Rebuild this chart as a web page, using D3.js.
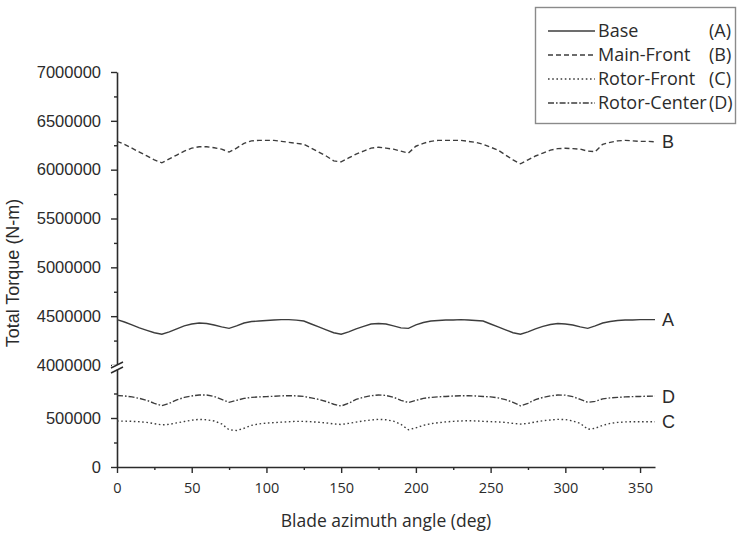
<!DOCTYPE html>
<html>
<head>
<meta charset="utf-8">
<script src="https://cdn.jsdelivr.net/npm/d3@7"></script>
<style>
  html, body { margin: 0; padding: 0; background: #fff; }
  svg { display: block; }
</style>
</head>
<body>
<svg id="chart" width="738" height="534"></svg>
<script>
// Blade azimuth angles (deg), sampled every 5 degrees
const angles = d3.range(0, 361, 5);

// Total torque per configuration (N-m)
const baseA = [
  4465000, 4440000, 4410000, 4380000, 4355000, 4330000, 4315000, 4340000, 4370000, 4400000,
  4420000, 4430000, 4425000, 4410000, 4390000, 4375000, 4400000, 4430000, 4445000, 4450000,
  4455000, 4460000, 4465000, 4465000, 4460000, 4450000, 4420000, 4390000, 4360000, 4330000,
  4315000, 4340000, 4370000, 4395000, 4420000, 4425000, 4420000, 4400000, 4380000, 4375000,
  4410000, 4435000, 4450000, 4455000, 4460000, 4460000, 4465000, 4460000, 4455000, 4450000,
  4420000, 4390000, 4360000, 4330000, 4315000, 4340000, 4370000, 4395000, 4415000, 4425000,
  4420000, 4410000, 4390000, 4375000, 4400000, 4430000, 4445000, 4455000, 4460000, 4460000,
  4465000, 4465000, 4465000
];
const mainFrontB = [
  6290000, 6260000, 6220000, 6180000, 6140000, 6100000, 6070000, 6110000, 6150000, 6190000,
  6220000, 6235000, 6235000, 6225000, 6210000, 6180000, 6220000, 6270000, 6295000, 6300000,
  6300000, 6300000, 6290000, 6280000, 6270000, 6260000, 6220000, 6180000, 6140000, 6090000,
  6080000, 6120000, 6160000, 6190000, 6220000, 6230000, 6220000, 6210000, 6190000, 6170000,
  6240000, 6270000, 6290000, 6300000, 6300000, 6300000, 6300000, 6290000, 6280000, 6260000,
  6230000, 6200000, 6150000, 6100000, 6060000, 6100000, 6140000, 6170000, 6200000, 6215000,
  6220000, 6215000, 6210000, 6190000, 6185000, 6260000, 6280000, 6295000, 6300000, 6295000,
  6290000, 6290000, 6285000
];
const rotorFrontC = [
  469000, 468000, 466000, 462000, 455000, 442000, 430000, 435000, 450000, 464000,
  478000, 486000, 482000, 470000, 440000, 380000, 372000, 395000, 425000, 440000,
  448000, 453000, 458000, 462000, 466000, 466000, 462000, 456000, 450000, 440000,
  434000, 445000, 458000, 470000, 480000, 486000, 482000, 468000, 435000, 380000,
  400000, 425000, 442000, 452000, 460000, 466000, 470000, 472000, 470000, 466000,
  463000, 460000, 455000, 445000, 438000, 445000, 460000, 472000, 480000, 486000,
  484000, 470000, 445000, 385000, 395000, 425000, 445000, 455000, 460000, 462000,
  462000, 462000, 462000
];
const rotorCenterD = [
  730000, 725000, 715000, 700000, 680000, 650000, 625000, 650000, 685000, 710000,
  725000, 735000, 735000, 720000, 690000, 660000, 680000, 700000, 710000, 715000,
  718000, 722000, 726000, 728000, 726000, 720000, 705000, 690000, 668000, 640000,
  622000, 650000, 690000, 712000, 728000, 735000, 730000, 712000, 680000, 658000,
  680000, 700000, 710000, 716000, 720000, 724000, 727000, 727000, 725000, 720000,
  716000, 705000, 688000, 660000, 624000, 650000, 688000, 710000, 726000, 735000,
  733000, 718000, 690000, 660000, 670000, 695000, 705000, 710000, 716000, 718000,
  720000, 722000, 724000
];

const seriesNames = ["Base", "Main-Front", "Rotor-Front", "Rotor-Center"];
const seriesTags = ["A", "B", "C", "D"];

// Axis ticks
const xMajorTicks = [0, 50, 100, 150, 200, 250, 300, 350];
const xMinorTicks = [25, 75, 125, 175, 225, 275, 325];
const yUpperMajor = [4000000, 4500000, 5000000, 5500000, 6000000, 6500000, 7000000];
const yUpperMinor = [4250000, 4750000, 5250000, 5750000, 6250000, 6750000];
const yLowerMajor = [0, 500000];
const yLowerMinor = [250000, 750000];

const svg = d3.select("#chart");
const ink = "#2b2b2b";
const lineInk = "#3d3d3d";

const x = d3.scaleLinear().domain([0, 360]).range([117, 655]);
// Broken y axis: low band and high band
const yLow = d3.scaleLinear().domain([0, 1000000]).range([467, 369]);
const yHigh = d3.scaleLinear().domain([4000000, 7000000]).range([365, 72]);

const tickFontY = "'Liberation Sans', Arial, sans-serif";
const tickFontX = "'Open Sans', 'Noto Sans', sans-serif";

function styleAxis(g, font, size) {
  g.selectAll("path.domain").attr("stroke", ink).attr("stroke-width", 1.6);
  g.selectAll(".tick line").attr("stroke", ink).attr("stroke-width", 1.4);
  g.selectAll(".tick text").attr("fill", ink).style("font-family", font).style("font-size", size + "px");
}

// X axis
const gx = svg.append("g").attr("transform", "translate(0,467)")
  .call(d3.axisBottom(x).tickValues(xMajorTicks).tickSize(6).tickPadding(10).tickSizeOuter(0));
styleAxis(gx, tickFontX, 14.5);
const gxm = svg.append("g").attr("transform", "translate(0,467)")
  .call(d3.axisBottom(x).tickValues(xMinorTicks).tickSize(3).tickFormat("").tickSizeOuter(0));
styleAxis(gxm, tickFontX, 14.5);
gxm.select("path.domain").remove();

// Y axis, upper band
const gyH = svg.append("g").attr("transform", "translate(117,0)")
  .call(d3.axisLeft(yHigh).tickValues(yUpperMajor).tickSize(6).tickPadding(10).tickSizeOuter(0).tickFormat(d3.format("d")));
styleAxis(gyH, tickFontY, 16.5);
const gyHm = svg.append("g").attr("transform", "translate(117,0)")
  .call(d3.axisLeft(yHigh).tickValues(yUpperMinor).tickSize(3).tickFormat("").tickSizeOuter(0));
styleAxis(gyHm, tickFontY, 16.5);
gyHm.select("path.domain").remove();

// Y axis, lower band
const gyL = svg.append("g").attr("transform", "translate(117,0)")
  .call(d3.axisLeft(yLow).tickValues(yLowerMajor).tickSize(6).tickPadding(10).tickSizeOuter(0).tickFormat(d3.format("d")));
styleAxis(gyL, tickFontY, 16.5);
const gyLm = svg.append("g").attr("transform", "translate(117,0)")
  .call(d3.axisLeft(yLow).tickValues(yLowerMinor).tickSize(3).tickFormat("").tickSizeOuter(0));
styleAxis(gyLm, tickFontY, 16.5);
gyLm.select("path.domain").remove();

// Axis break marks
const brk = svg.append("g").attr("stroke", ink).attr("stroke-width", 1.4);
brk.append("rect").attr("x", 112).attr("y", 365).attr("width", 10).attr("height", 4).attr("fill", "#fff").attr("stroke", "none");
brk.append("line").attr("x1", 111).attr("y1", 368).attr("x2", 123).attr("y2", 362);
brk.append("line").attr("x1", 111).attr("y1", 373).attr("x2", 123).attr("y2", 367);

// Axis titles
svg.append("text")
  .attr("transform", "translate(19,273) rotate(-90)")
  .attr("text-anchor", "middle")
  .attr("fill", ink)
  .style("font-family", tickFontY)
  .style("font-size", "18px")
  .text("Total Torque (N-m)");
svg.append("text")
  .attr("x", 386).attr("y", 527)
  .attr("text-anchor", "middle")
  .attr("fill", ink)
  .style("font-family", tickFontX)
  .style("font-size", "17.5px")
  .text("Blade azimuth angle (deg)");

// Series
const dashes = ["none", "5,3", "1.6,2.6", "6,2,1.6,2"];
const series = [
  { values: baseA, scale: yHigh },
  { values: mainFrontB, scale: yHigh },
  { values: rotorFrontC, scale: yLow },
  { values: rotorCenterD, scale: yLow }
];

series.forEach((s, i) => {
  const pts = angles.map((a, k) => [a, s.values[k]]);
  const line = d3.line().x(d => x(d[0])).y(d => s.scale(d[1]));
  svg.append("path")
    .datum(pts)
    .attr("d", line)
    .attr("fill", "none")
    .attr("stroke", lineInk)
    .attr("stroke-width", 1.4)
    .attr("stroke-dasharray", dashes[i]);
  const last = pts[pts.length - 1];
  svg.append("text")
    .attr("x", x(last[0]) + 7)
    .attr("y", s.scale(last[1]))
    .attr("dy", "0.36em")
    .attr("fill", ink)
    .style("font-family", tickFontY)
    .style("font-size", "18px")
    .text(seriesTags[i]);
});

// Legend
const lg = svg.append("g");
lg.append("rect")
  .attr("x", 535.5).attr("y", 7.5).attr("width", 200).attr("height", 116)
  .attr("fill", "#fff").attr("stroke", "#8a8a8a").attr("stroke-width", 1.4);
const rowY = [31, 55, 79, 103];
seriesNames.forEach((name, i) => {
  lg.append("line")
    .attr("x1", 548).attr("x2", 595)
    .attr("y1", rowY[i]).attr("y2", rowY[i])
    .attr("stroke", lineInk).attr("stroke-width", 1.4)
    .attr("stroke-dasharray", dashes[i]);
  lg.append("text")
    .attr("x", 598).attr("y", rowY[i]).attr("dy", "0.36em")
    .attr("fill", ink)
    .style("font-family", tickFontX).style("font-size", "18px")
    .text(name);
  lg.append("text")
    .attr("x", 709).attr("y", rowY[i]).attr("dy", "0.36em")
    .attr("fill", ink)
    .style("font-family", tickFontX).style("font-size", "18px")
    .text("(" + seriesTags[i] + ")");
});
</script>
</body>
</html>
